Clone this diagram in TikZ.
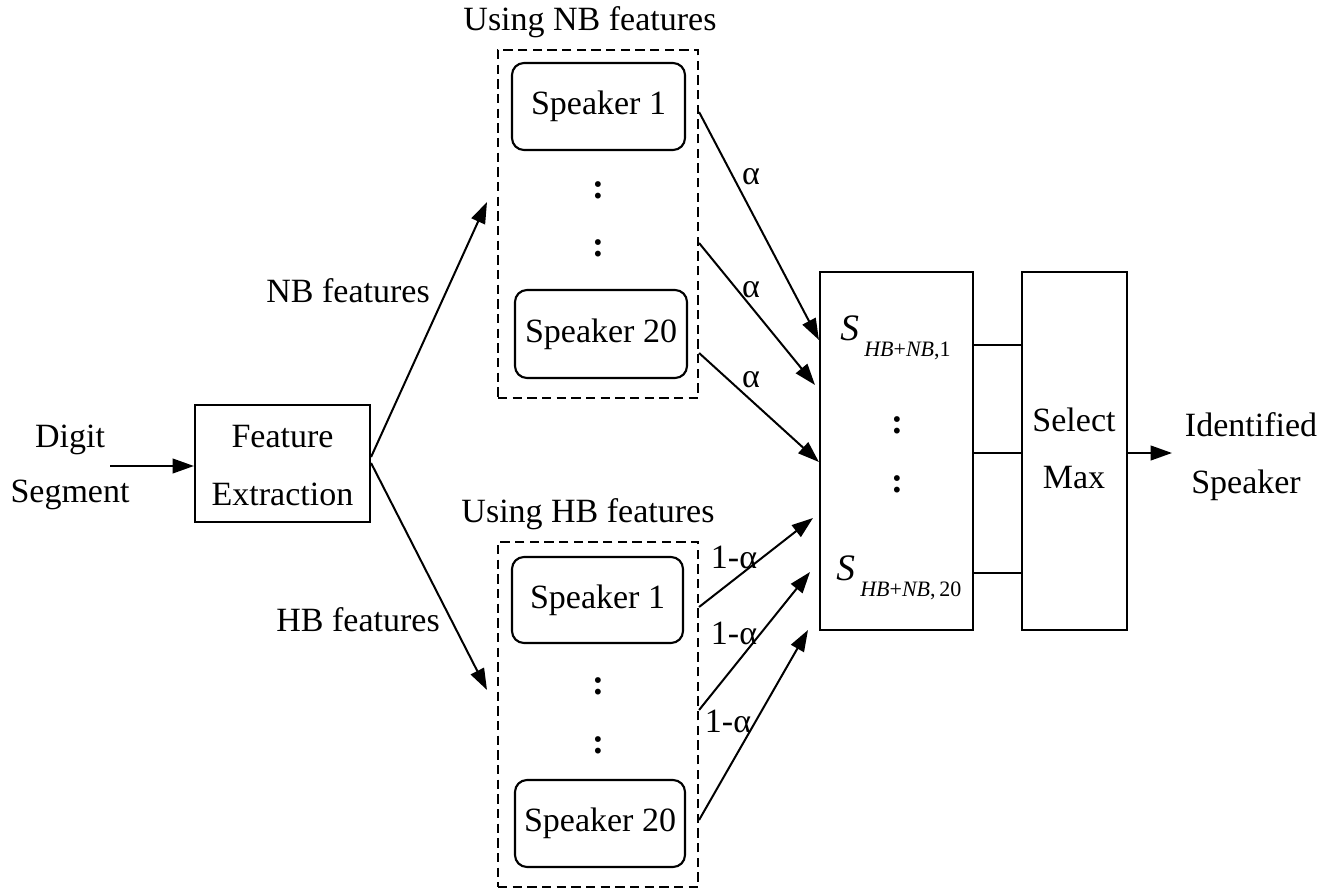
\documentclass[tikz,border=0pt]{standalone}
\usepackage{fontspec}
\setmainfont{Liberation Serif}
\usetikzlibrary{arrows.meta}
\begin{document}
\begin{tikzpicture}[x=0.75pt,y=-0.75pt,
  txt/.style={font=\fontsize{25.5}{30}\selectfont, inner sep=0pt},
  box/.style={draw, line width=1.6pt, inner sep=0pt, txt, align=center},
  spk/.style={box, rounded corners=9pt},
  grp/.style={draw, line width=1.6pt, dash pattern=on 7pt off 4pt, inner sep=0pt},
  arr/.style={-{Triangle[length=16pt,width=11pt]}, line width=1.5pt},
  link/.style={line width=1.5pt},
  vdots/.style={txt, font=\fontsize{27}{30}\selectfont\bfseries},
  score/.style={txt, anchor=base west, font=\fontsize{28}{30}\selectfont\itshape}
]
\useasboundingbox (0,0) rectangle (1325,888);

% input
\node[txt] (digit) at (70,440) {Digit};
\node[txt] (segment) at (70,495) {Segment};
\coordinate (inp) at (110,466);

\node[box, minimum width=131.25pt, minimum height=87.75pt] (fe) at (282.5,463.5) {};
\node[txt] (fe1) at (282.5,437) {Feature};
\node[txt] (fe2) at (282.5,494) {Extraction};

% NB branch
\node[grp, minimum width=150pt, minimum height=261pt] (nbgrp) at (598,224) {};
\node[txt, anchor=south] (nbttl) at (590,38) {Using NB features};
\node[spk, minimum width=129.75pt, minimum height=65.25pt] (nb1) at (598.5,106.5) {Speaker 1};
\node[vdots] (nbd1) at (598,190) {:};
\node[vdots] (nbd2) at (598,248) {:};
\node[spk, minimum width=129pt, minimum height=66pt] (nb20) at (601,334) {Speaker 20};

% HB branch
\node[grp, minimum width=150pt, minimum height=258.75pt] (hbgrp) at (598,714.5) {};
\node[txt, anchor=south] (hbttl) at (588,530) {Using HB features};
\node[spk, minimum width=128.25pt, minimum height=64.5pt] (hb1) at (597.5,600) {Speaker 1};
\node[vdots] (hbd1) at (598,686) {:};
\node[vdots] (hbd2) at (598,745) {:};
\node[spk, minimum width=127.5pt, minimum height=65.25pt] (hb20) at (600,823.5) {Speaker 20};

% score fusion and decision
\node[box, minimum width=114.75pt, minimum height=268.5pt] (sbox) at (896.5,451) {};
\node[box, minimum width=78.75pt, minimum height=268.5pt] (sel) at (1074.5,451) {};
\node[txt] (sel1) at (1074,420) {Select};
\node[txt] (sel2) at (1074,478) {Max};

\node[score] (s1) at (840,340)
  {S\hspace{4pt}\raisebox{-12.5pt}{\fontsize{16.5}{18}\selectfont\textit{HB}\textup{+}\textit{NB}\textup{,1}}};
\node[vdots] (sd1) at (897,425) {:};
\node[vdots] (sd2) at (897,484) {:};
\node[score] (s20) at (836,580)
  {S\hspace{4pt}\raisebox{-12.5pt}{\fontsize{16.5}{18}\selectfont\textit{HB}\textup{+}\textit{NB}\textup{,\,20}}};

\node[txt] (id1) at (1251,425) {Identified};
\node[txt] (id2) at (1246,485) {Speaker};
\coordinate (out) at (1172,453);

% connectors
\draw[arr] (inp) -- (fe.west |- inp);
\draw[arr] (fe.east |- 0,457) -- (487,202);
\draw[arr] (fe.east |- 0,463) -- (487,690);
\node[txt, anchor=east] (nblbl) at (430,291) {NB features};
\node[txt, anchor=east] (hblbl) at (440,620) {HB features};

\draw[arr] (nbgrp.east |- 0,112) -- (sbox.west |- 0,340);
\draw[arr] (nbgrp.east |- 0,243) -- (815,385);
\draw[arr] (nbgrp.east |- 0,353) -- (sbox.west |- 0,462);
\node[txt] (a1) at (751,177) {α};
\node[txt] (a2) at (751,290) {α};
\node[txt] (a3) at (751,380) {α};

\draw[arr] (hbgrp.east |- 0,607) -- (813,518);
\draw[arr] (hbgrp.east |- 0,710) -- (810,572);
\draw[arr] (hbgrp.east |- 0,820) -- (808,630);
\node[txt] (b1) at (734,557) {1-α};
\node[txt] (b2) at (734,633) {1-α};
\node[txt] (b3) at (728,721) {1-α};

\draw[link] (sbox.east |- 0,345) -- (sel.west |- 0,345);
\draw[link] (sbox.east |- 0,453) -- (sel.west |- 0,453);
\draw[link] (sbox.east |- 0,573) -- (sel.west |- 0,573);
\draw[arr] (sel.east |- out) -- (out);
\end{tikzpicture}
\end{document}
